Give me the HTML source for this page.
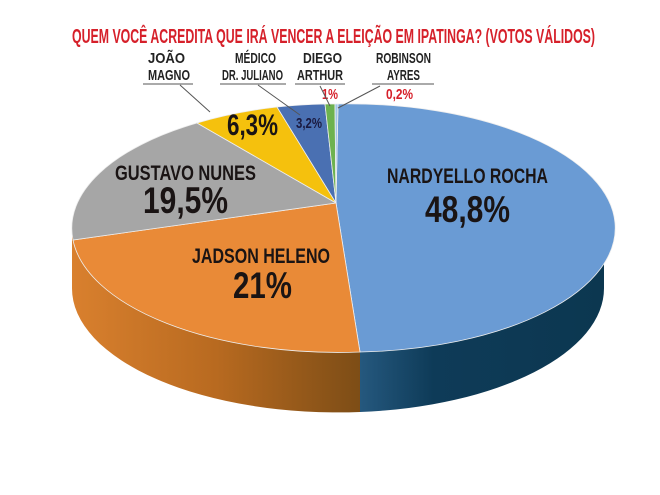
<!DOCTYPE html>
<html><head><meta charset="utf-8"><style>
html,body{margin:0;padding:0;background:#fff;width:660px;height:495px;overflow:hidden}
svg{display:block}
text{font-family:"Liberation Sans",sans-serif;font-weight:bold}
</style></head><body>
<svg width="660" height="495" viewBox="0 0 660 495">
<defs>
<linearGradient id="og" x1="0" x2="1" y1="0" y2="0">
<stop offset="0" stop-color="#d9802e"/><stop offset="0.5" stop-color="#b86a20"/><stop offset="1" stop-color="#7d4d16"/>
</linearGradient>
<linearGradient id="bg" x1="0" x2="1" y1="0" y2="0">
<stop offset="0" stop-color="#25587e"/><stop offset="0.3" stop-color="#0e3b58"/><stop offset="1" stop-color="#0c3750"/>
</linearGradient>
</defs>
<text x="72" y="43" font-size="20" fill="#d6202a" textLength="523" lengthAdjust="spacingAndGlyphs">QUEM VOCÊ ACREDITA QUE IRÁ VENCER A ELEIÇÃO EM IPATINGA? (VOTOS VÁLIDOS)</text>
<path d="M72,228 A266,124 0 0 0 360,352 L360,412 A266,124 0 0 1 72,288 Z" fill="url(#og)"/>
<path d="M360,352 A266,124 0 0 0 604,228 L604,288 A266,124 0 0 1 360,412 Z" fill="url(#bg)"/>
<g stroke="#eee" stroke-width="0.8">
<path d="M336,203 L338,104 A266,124 0 0 1 360,352 Z" fill="#6a9bd4"/>
<path d="M336,203 L360,352 A266,124 0 0 1 73,240 Z" fill="#e98a37"/>
<path d="M336,203 L73,240 A266,124 0 0 1 197,123 Z" fill="#a6a6a6"/>
<path d="M336,203 L197,123 A266,124 0 0 1 277,107 Z" fill="#f5c10d"/>
<path d="M336,203 L277,107 A266,124 0 0 1 325,104 Z" fill="#4a70b2"/>
<path d="M336,203 L325,104 A266,124 0 0 1 335,104 Z" fill="#6db24f"/>
<path d="M336,203 L335,104 A266,124 0 0 1 338,104 Z" fill="#9fc6e8"/>
</g>
<g fill="#1a1414">
<text x="387" y="183" font-size="21" textLength="161" lengthAdjust="spacingAndGlyphs">NARDYELLO ROCHA</text>
<text x="425" y="222" font-size="37" textLength="85" lengthAdjust="spacingAndGlyphs">48,8%</text>
<text x="115" y="180" font-size="21" textLength="141" lengthAdjust="spacingAndGlyphs">GUSTAVO NUNES</text>
<text x="143" y="213" font-size="37" textLength="85" lengthAdjust="spacingAndGlyphs">19,5%</text>
<text x="192" y="263" font-size="21" textLength="138" lengthAdjust="spacingAndGlyphs">JADSON HELENO</text>
<text x="233" y="298" font-size="37" textLength="59" lengthAdjust="spacingAndGlyphs">21%</text>
<text x="227" y="135" font-size="30" textLength="51" lengthAdjust="spacingAndGlyphs">6,3%</text>
<text x="296" y="128" font-size="15" font-weight="normal" textLength="26" lengthAdjust="spacingAndGlyphs" fill="#1a1a40">3,2%</text>
</g>
<g fill="#222" font-size="15">
<text x="148" y="63" textLength="37" lengthAdjust="spacingAndGlyphs">JOÃO</text>
<text x="148" y="80" textLength="42" lengthAdjust="spacingAndGlyphs">MAGNO</text>
<text x="235" y="63" textLength="41" lengthAdjust="spacingAndGlyphs">MÉDICO</text>
<text x="222" y="80" textLength="61" lengthAdjust="spacingAndGlyphs">DR. JULIANO</text>
<text x="303" y="63" textLength="39" lengthAdjust="spacingAndGlyphs">DIEGO</text>
<text x="297" y="80" textLength="46" lengthAdjust="spacingAndGlyphs">ARTHUR</text>
<text x="376" y="63" textLength="55" lengthAdjust="spacingAndGlyphs">ROBINSON</text>
<text x="387" y="80" textLength="33" lengthAdjust="spacingAndGlyphs">AYRES</text>
</g>
<g fill="#d6202a" font-size="15">
<text x="322" y="99" textLength="16" lengthAdjust="spacingAndGlyphs">1%</text>
<text x="386" y="99" textLength="27" lengthAdjust="spacingAndGlyphs">0,2%</text>
</g>
<g stroke="#555" stroke-width="1" fill="none">
<line x1="143" y1="84" x2="193" y2="84"/>
<line x1="220" y1="84" x2="286" y2="84"/>
<line x1="295" y1="84" x2="345" y2="84"/>
<line x1="372" y1="84" x2="434" y2="84"/>
<line x1="180" y1="85" x2="210" y2="112"/>
<line x1="258" y1="85" x2="300" y2="115"/>
<line x1="320" y1="86" x2="330" y2="106"/>
<line x1="380" y1="86" x2="338" y2="108"/>
</g>
</svg>
</body></html>
